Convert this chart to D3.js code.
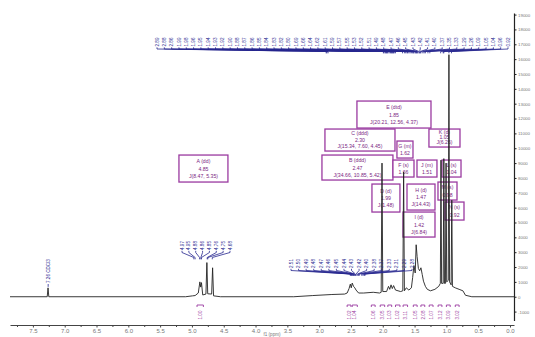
<!DOCTYPE html>
<html><head><meta charset="utf-8">
<script src="https://cdn.jsdelivr.net/npm/d3@7"></script>
<style>body{margin:0;background:#fff}svg{display:block}text{font-family:"Liberation Sans",Arial,sans-serif}</style>
</head><body><svg id="c" width="535" height="337"></svg>
<script>
// ---------- DATA ----------
const tracePpm = [7.86,7.275,7.262,7.25,5.10,4.99,4.95,4.90,4.875,4.862,4.85,4.83,4.78,4.765,4.752,4.69,4.675,4.66,4.55,
  3.40,3.10,2.80,2.60,2.56,2.53,2.51,2.495,2.48,2.46,2.44,2.42,2.38,2.30,2.15,2.05,2.025,2.012,2.00,
  1.94,1.91,1.89,1.87,1.85,1.83,1.80,1.72,1.685,1.672,1.66,1.63,1.59,1.55,1.53,1.51,1.49,1.475,1.46,1.44,1.42,1.40,1.38,1.36,1.33,1.30,1.25,1.18,1.12,
  1.095,1.085,1.075,1.05,1.04,1.03,1.015,1.005,0.995,0.97,0.96,0.95,0.925,0.915,0.905,0.86,0.80,0.74,0.70,0.60,-0.063];
const traceInt = [0,0,600,0,0,60,80,250,1000,650,950,120,180,2300,200,180,1950,60,0,
  0,80,150,180,250,550,850,600,920,700,600,450,250,250,300,250,300,9000,350,
  350,700,500,800,550,750,450,350,400,8400,400,600,450,600,1300,2100,1600,3500,2700,1900,1750,1950,1500,1050,700,500,400,500,700,
  900,9200,900,900,9300,900,900,9000,1000,1100,16300,1000,800,6500,700,600,500,400,100,0,0];

const topPeakLabels = ["2.89","2.88","2.86","1.99","1.98","1.96","1.95","1.94","1.93","1.92","1.90","1.88","1.87","1.86","1.85","1.84","1.83","1.82","1.80","1.69","1.66","1.64","1.62","1.61","1.59","1.57","1.55","1.53","1.52","1.51","1.49","1.48","1.47","1.46","1.45","1.43","1.42","1.41","1.40","1.37","1.35","1.33","1.29","1.26","1.09","1.05","1.04","0.96","0.92"];
const olefinPeakLabels = ["4.97","4.95","4.88","4.86","4.85","4.76","4.75","4.68"];
const midPeakLabels = ["2.51","2.50","2.49","2.48","2.47","2.46","2.45","2.44","2.43","2.42","2.40","2.38","2.37","2.33","2.31","2.29","2.28"];
const solventLabel = {ppm: 7.26, text: "7.26 CDCl3"};

const integralFrom = [4.92,2.56,2.48,2.18,2.04,1.92,1.80,1.68,1.52,1.40,1.27,1.13,1.00,0.86];
const integralTo   = [4.82,2.50,2.40,2.12,1.97,1.86,1.73,1.61,1.46,1.34,1.21,1.07,0.94,0.80];
const integralVal  = ["1.00","1.02","1.04","1.06","3.05","1.03","1.02","3.11","1.05","2.08","1.07","3.12","3.09","3.02"];

const mLetters = ["A (dd)","E (dtd)","C (ddd)","K (d)","G (m)","B (ddd)","F (s)","J (m)","L (s)","D (d)","H (d)","M (s)","N (s)","I (d)"];
const mShifts  = ["4.85","1.85","2.30","1.05","1.62","2.47","1.66","1.51","1.04","1.99","1.47","0.98","0.92","1.42"];
const mJ       = ["J(8.47, 5.35)","J(20.21, 12.56, 4.37)","J(15.34, 7.60, 4.45)","J(6.26)","","J(34.66, 10.85, 5.42)","","","","J(1.48)","J(14.43)","","","J(6.84)"];
// annotation frames in data coordinates: [ppmLeft, ppmRight, intensityTop, intensityBottom]
const mFrame = [[5.204,4.434,9542,7724],[2.406,1.242,13178,11360],[2.909,1.808,11293,9811],[1.274,0.786,11293,10081],
  [1.777,1.525,10485,9340],[2.956,1.840,9542,7859],[1.840,1.509,9205,8061],[1.462,1.148,9205,8061],[1.069,0.770,9205,8061],
  [2.170,1.730,7589,5704],[1.619,1.179,7589,5838],[1.132,0.833,7724,6512],[1.022,0.723,6377,5165],[1.682,1.179,5704,4020]];

const xTicks = [7.5,7.0,6.5,6.0,5.5,5.0,4.5,4.0,3.5,3.0,2.5,2.0,1.5,1.0,0.5,0.0];
const xMinorTicks = [7.75,7.25,6.75,6.25,5.75,5.25,4.75,4.25,3.75,3.25,2.75,2.25,1.75,1.25,0.75,0.25];
const yTicks = [-1000,0,1000,2000,3000,4000,5000,6000,7000,8000,9000,10000,11000,12000,13000,14000,15000,16000,17000,18000,19000];

// ---------- SCALES ----------
const svg = d3.select("#c");
const x = d3.scaleLinear().domain([7.86,-0.063]).range([10,514]);
const y = d3.scaleLinear().domain([-1600,19100]).range([320.5,13.1]);
const baseY = 325;

const blue = "#27278f", purple = "#9a3aa0", purpleText = "#7c2883", gray = "#777";

// ---------- ANNOTATION BOXES ----------
const boxG = svg.append("g");
mFrame.forEach((f,i)=>{
  const x0=x(f[0]), x1=x(f[1]), y0=y(f[2]), y1=y(f[3]);
  boxG.append("rect").attr("x",x0).attr("y",y0).attr("width",x1-x0).attr("height",y1-y0)
    .attr("fill","#fff").attr("stroke",purple).attr("stroke-width",1.3);
  const lines=[mLetters[i],mShifts[i]]; if(mJ[i]) lines.push(mJ[i]);
  const h=y1-y0, lh=Math.min(7.2,(h-3)/lines.length);
  const start=y0+(h-lh*lines.length)/2+lh*0.78;
  lines.forEach((t,k)=>{
    boxG.append("text").attr("x",(x0+x1)/2).attr("y",start+k*lh).attr("text-anchor","middle")
      .attr("font-size",5.2).attr("fill",purpleText).text(t);
  });
});

// ---------- SPECTRUM ----------
const pts = tracePpm.map((p,i)=>[p,traceInt[i]]);
svg.append("path").datum(pts).attr("fill","none").attr("stroke","#222").attr("stroke-width",0.9)
  .attr("d",d3.line().x(d=>x(d[0])).y(d=>y(d[1])));

// ---------- PEAK LABEL GROUPS ----------
function labelGroup(vals,xs,xe,tb,ly){
  const g=svg.append("g");
  const n=vals.length, step=n>1?(xe-xs)/(n-1):0;
  vals.forEach((v,i)=>{
    const lx=xs+i*step;
    g.append("text").attr("transform",`translate(${lx+1.6},${tb}) rotate(-90)`).attr("font-size",4.6)
      .attr("fill",blue).text(v);
    g.append("path").attr("d",`M${lx},${tb+0.8}V${tb+2.5}L${x(+v)},${ly}V${ly+1.8}`)
      .attr("fill","none").attr("stroke",blue).attr("stroke-width",0.8);
  });
}
labelGroup(topPeakLabels,157,508,46.5,51.5);
labelGroup(olefinPeakLabels,182,230,250,257.5);
labelGroup(midPeakLabels,291,412,268,274);
// solvent
(function(){
  const sx=x(solventLabel.ppm);
  svg.append("text").attr("transform",`translate(${sx+1.6},283) rotate(-90)`).attr("font-size",4.6)
    .attr("fill",blue).text(solventLabel.text);
  svg.append("path").attr("d",`M${sx},284V${y(600)-1}`).attr("stroke",blue).attr("stroke-width",0.8);
})();

// ---------- INTEGRALS ----------
const ig=svg.append("g");
integralVal.forEach((v,i)=>{
  const a=x(integralFrom[i]), b=x(integralTo[i]), c=(a+b)/2;
  ig.append("path").attr("d",`M${a},307V305H${b}V307`).attr("fill","none").attr("stroke",purple).attr("stroke-width",0.9);
  ig.append("text").attr("transform",`translate(${c+1.7},319.5) rotate(-90)`).attr("font-size",4.6)
    .attr("fill",purple).text(v);
});

// ---------- AXES ----------
const xa = svg.append("g").attr("transform",`translate(0,${baseY})`)
  .call(d3.axisBottom(x).tickValues(xTicks).tickSize(2.5).tickSizeOuter(0).tickFormat(d3.format(".1f")));
xa.selectAll("text").attr("font-size",6).attr("fill",gray).attr("dy","0.4em");
xa.select(".domain").attr("stroke","#444");
xa.selectAll(".tick line").attr("stroke","#444");
const xm = svg.append("g").attr("transform",`translate(0,${baseY})`)
  .call(d3.axisBottom(x).tickValues(xMinorTicks).tickSize(2).tickSizeOuter(0).tickFormat(""));
xm.select(".domain").remove(); xm.selectAll(".tick line").attr("stroke","#444");
svg.append("text").attr("x",272).attr("y",336.3).attr("text-anchor","middle").attr("font-size",4.6)
  .attr("fill",gray).text("f1 (ppm)");

const ya = svg.append("g").attr("transform","translate(514,0)")
  .call(d3.axisRight(y).tickValues(yTicks).tickSize(2.5).tickSizeOuter(0).tickFormat(d=>String(d)));
ya.selectAll("text").attr("font-size",4.4).attr("fill",gray).attr("x",4);
ya.select(".domain").attr("stroke","#222").attr("stroke-width",1.2);
ya.selectAll(".tick line").attr("stroke","#222");
</script></body></html>
